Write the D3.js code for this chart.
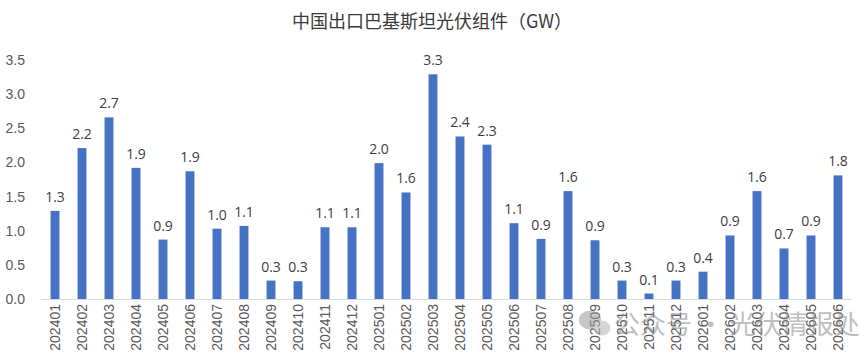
<!DOCTYPE html>
<html><head><meta charset="utf-8">
<script src="https://cdn.jsdelivr.net/npm/d3@7"></script>
<style>body{margin:0;background:#fff;}svg{display:block;font-family:"Open Sans","Noto Sans","Noto Sans CJK SC",sans-serif;}</style>
</head><body>
<svg id="c" width="865" height="363"></svg>
<script>
const title = "中国出口巴基斯坦光伏组件（GW）";
const categories = ["202401","202402","202403","202404","202405","202406","202407","202408","202409","202410","202411","202412","202501","202502","202503","202504","202505","202506","202507","202508","202509","202510","202511","202512","202601","202602","202603","202604","202605","202606"];
const values = [1.29,2.21,2.66,1.92,0.87,1.87,1.03,1.07,0.27,0.26,1.05,1.05,1.99,1.56,3.29,2.38,2.26,1.11,0.88,1.58,0.86,0.27,0.08,0.27,0.40,0.93,1.58,0.74,0.93,1.81];
const yTicks = [0,0.5,1.0,1.5,2.0,2.5,3.0,3.5];
const watermark = "公众号 · 光伏情报处";

const svg = d3.select("#c");
const x = d3.scaleBand().domain(categories).range([41.5, 851.5]).paddingInner(0.67).paddingOuter(0.335);
const y = d3.scaleLinear().domain([0,3.5]).range([299, 60]);

svg.append("text").attr("x", 432).attr("y", 28).attr("text-anchor","middle")
  .attr("font-size", 18).attr("fill","#3a3a3a")
  .attr("font-family","'Noto Sans CJK SC',sans-serif").text(title);

const ya = svg.append("g").attr("transform","translate(25,0)")
  .call(d3.axisLeft(y).tickValues(yTicks).tickFormat(d3.format(".1f")).tickSize(0).tickPadding(0));
ya.select(".domain").remove();
ya.selectAll("text").attr("font-size",14).attr("fill","#595959");

svg.append("g").selectAll("rect").data(values).join("rect")
  .attr("x",(d,i)=>x(categories[i])).attr("width",x.bandwidth())
  .attr("y",d=>y(d)).attr("height",d=>y(0)-y(d)).attr("fill","#4472C4");

svg.append("line").attr("x1",41.5).attr("x2",851.5).attr("y1",y(0)+0.5).attr("y2",y(0)+0.5)
  .attr("stroke","#D9D9D9").attr("stroke-width",1);

svg.append("g").selectAll("text").data(values).join("text")
  .attr("x",(d,i)=>x(categories[i])+x.bandwidth()/2).attr("y",d=>y(d)-9)
  .attr("text-anchor","middle").attr("font-size",14).attr("fill","#404040")
  .text(d=>d3.format(".1f")(d));

const xa = svg.append("g").attr("transform",`translate(0,${y(0)})`)
  .call(d3.axisBottom(x).tickSize(0).tickPadding(0));
xa.select(".domain").remove();
xa.selectAll("text").attr("font-size",14).attr("fill","#595959")
  .attr("transform","rotate(-90)").attr("text-anchor","end").attr("dy","0.35em").attr("x",-5).attr("y",0);

const wm = svg.append("g").attr("opacity",0.55);
wm.append("ellipse").attr("cx",590).attr("cy",320).attr("rx",11).attr("ry",9.5).attr("fill","#9a9a9a");
wm.append("ellipse").attr("cx",602).attr("cy",328).attr("rx",8.5).attr("ry",7.5).attr("fill","#b5b5b5");
wm.append("text").attr("x",614).attr("y",334).attr("font-size",26).attr("fill","#8c8c8c")
  .attr("font-family","'Noto Sans CJK SC',sans-serif").text(watermark);
</script>
</body></html>
